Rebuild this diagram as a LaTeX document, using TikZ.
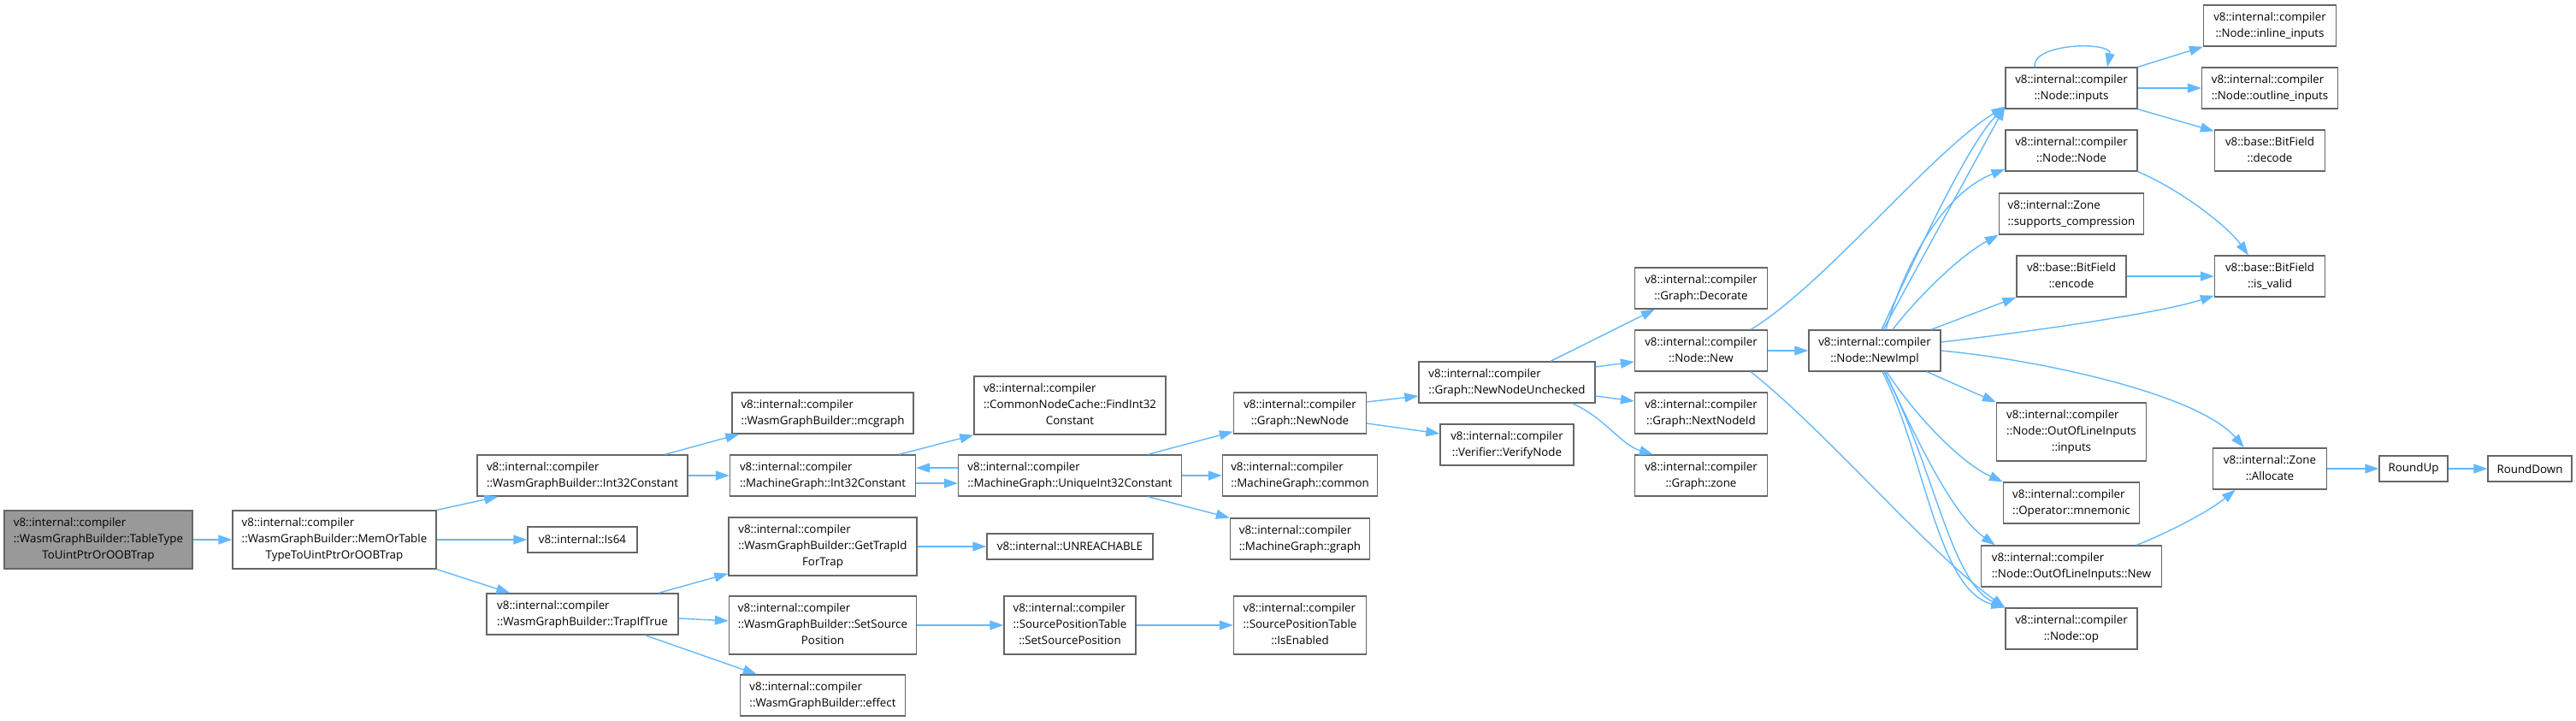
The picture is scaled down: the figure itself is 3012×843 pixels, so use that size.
\documentclass[tikz,border=0pt]{standalone}
\usepackage{fontspec}
\setmainfont{Open Sans}
\usetikzlibrary{arrows.meta,calc}
\definecolor{eb}{HTML}{63B8FF}
\definecolor{bd}{HTML}{666666}
\definecolor{rootfill}{HTML}{999999}
\newcommand\twoln[2]{\begin{tabular}{@{}l@{}}#1\\\multicolumn{1}{@{}c@{}}{#2}\end{tabular}}
\newcommand\threeln[3]{\begin{tabular}{@{}l@{}}#1\\#2\\\multicolumn{1}{@{}c@{}}{#3}\end{tabular}}
\newcommand\bx[6]{\node[box, minimum width=#4pt, minimum height=#5pt] (#1) at (#2,#3) {#6};}
\begin{document}
\begin{tikzpicture}[x=1pt,y=-1pt,
  box/.style={draw=bd, line width=1.3pt, fill=white, inner sep=0pt, font=\fontsize{13.35}{19}\selectfont},
  ed/.style={draw=eb, line width=1.4pt, -{Triangle[length=16pt,width=11pt]}}]
\useasboundingbox (0,0) rectangle (3012,843);
% column 0-1
\node[box, fill=rootfill, minimum width=220pt, minimum height=68pt] (root) at (115,631) {\threeln{v8::internal::compiler}{::WasmGraphBuilder::TableType}{ToUintPtrOrOOBTrap}};
\bx{mot}{391}{631}{238}{68}{\threeln{v8::internal::compiler}{::WasmGraphBuilder::MemOrTable}{TypeToUintPtrOrOOBTrap}}
% column 2
\bx{wic}{681}{556}{246}{48}{\twoln{v8::internal::compiler}{::WasmGraphBuilder::Int32Constant}}
\bx{is64}{681}{631}{128}{30}{v8::internal::Is64}
\bx{tit}{681}{718}{224}{48}{\twoln{v8::internal::compiler}{::WasmGraphBuilder::TrapIfTrue}}
% column 3
\bx{mcg}{962}{483}{212}{48}{\twoln{v8::internal::compiler}{::WasmGraphBuilder::mcgraph}}
\bx{mic}{962}{556}{217}{48}{\twoln{v8::internal::compiler}{::MachineGraph::Int32Constant}}
\bx{gtid}{962}{639}{220}{68}{\threeln{v8::internal::compiler}{::WasmGraphBuilder::GetTrapId}{ForTrap}}
\bx{wssp}{962}{731}{219}{68}{\threeln{v8::internal::compiler}{::WasmGraphBuilder::SetSource}{Position}}
\bx{eff}{962}{813}{193}{48}{\twoln{v8::internal::compiler}{::WasmGraphBuilder::effect}}
% column 4
\bx{find}{1251}{474}{224}{68}{\threeln{v8::internal::compiler}{::CommonNodeCache::FindInt32}{Constant}}
\bx{uniq}{1251}{556}{261}{48}{\twoln{v8::internal::compiler}{::MachineGraph::UniqueInt32Constant}}
\bx{unr}{1251}{639}{194}{30}{v8::internal::UNREACHABLE}
\bx{sssp}{1251}{731}{154}{68}{\threeln{v8::internal::compiler}{::SourcePositionTable}{::SetSourcePosition}}
% column 5
\bx{nn}{1520}{483}{155}{48}{\twoln{v8::internal::compiler}{::Graph::NewNode}}
\bx{comm}{1520}{556}{181}{48}{\twoln{v8::internal::compiler}{::MachineGraph::common}}
\bx{mgg}{1520}{630}{163}{48}{\twoln{v8::internal::compiler}{::MachineGraph::graph}}
\bx{sen}{1520}{731}{155}{68}{\threeln{v8::internal::compiler}{::SourcePositionTable}{::IsEnabled}}
% column 6
\bx{nnu}{1762}{447}{206}{48}{\twoln{v8::internal::compiler}{::Graph::NewNodeUnchecked}}
\bx{vn}{1762}{520}{156}{48}{\twoln{v8::internal::compiler}{::Verifier::VerifyNode}}
% column 7
\bx{dec}{1989}{337}{155}{48}{\twoln{v8::internal::compiler}{::Graph::Decorate}}
\bx{nnew}{1989}{410}{155}{48}{\twoln{v8::internal::compiler}{::Node::New}}
\bx{nid}{1989}{483}{155}{48}{\twoln{v8::internal::compiler}{::Graph::NextNodeId}}
\bx{gz}{1989}{556}{155}{48}{\twoln{v8::internal::compiler}{::Graph::zone}}
% column 8
\bx{nimpl}{2192}{410}{154}{48}{\twoln{v8::internal::compiler}{::Node::NewImpl}}
% column 9
\bx{ninp}{2422}{103}{154}{48}{\twoln{v8::internal::compiler}{::Node::inputs}}
\bx{nnode}{2422}{176}{154}{48}{\twoln{v8::internal::compiler}{::Node::Node}}
\bx{supp}{2422}{250}{169}{48}{\twoln{v8::internal::Zone}{::supports\_compression}}
\bx{enc}{2422}{323}{128}{48}{\twoln{v8::base::BitField}{::encode}}
\bx{oolin}{2422}{505}{175}{68}{\threeln{v8::internal::compiler}{::Node::OutOfLineInputs}{::inputs}}
\bx{mnem}{2422}{588}{159}{48}{\twoln{v8::internal::compiler}{::Operator::mnemonic}}
\bx{oolnew}{2422}{662}{211}{48}{\twoln{v8::internal::compiler}{::Node::OutOfLineInputs::New}}
\bx{nop}{2422}{735}{154}{48}{\twoln{v8::internal::compiler}{::Node::op}}
% column 10
\bx{inl}{2654}{30}{155}{48}{\twoln{v8::internal::compiler}{::Node::inline\_inputs}}
\bx{outl}{2654}{103}{159}{48}{\twoln{v8::internal::compiler}{::Node::outline\_inputs}}
\bx{dcd}{2654}{176}{129}{48}{\twoln{v8::base::BitField}{::decode}}
\bx{isv}{2654}{323}{129}{48}{\twoln{v8::base::BitField}{::is\_valid}}
\bx{alloc}{2654}{548}{133}{48}{\twoln{v8::internal::Zone}{::Allocate}}
% column 11-12
\bx{rup}{2822}{548}{80}{30}{RoundUp}
\bx{rdn}{2958}{548}{98}{30}{RoundDown}
% edges
\draw[ed] (root.east) -- (mot.west);
\draw[ed] (mot.north east) -- ([xshift=25pt]wic.south west);
\draw[ed] (mot.east) -- (is64.west);
\draw[ed] (mot.south east) -- ([xshift=28pt]tit.north west);
\draw[ed] ([xshift=-27pt]wic.north east) -- ([xshift=9pt]mcg.south west);
\draw[ed] (wic.east) -- (mic.west);
\draw[ed] ([xshift=-20pt]mic.north east) -- (find.south west);
\draw[ed] ([yshift=-9pt]mic.east) -- ([yshift=-9pt]uniq.west);
\draw[ed] ([yshift=9pt]uniq.west) -- ([yshift=9pt]mic.east);
\draw[ed] ([xshift=91pt]uniq.north) -- ([yshift=3pt]nn.south west);
\draw[ed] (uniq.east) -- (comm.west);
\draw[ed] ([xshift=91pt]uniq.south) -- (mgg.north west);
\draw[ed] ([xshift=89pt]tit.north) -- ([yshift=3pt]gtid.south west);
\draw[ed] ([yshift=-5pt]tit.east) -- ([yshift=5pt]wssp.west);
\draw[ed] ([xshift=73pt]tit.south) -- ([xshift=20pt]eff.north west);
\draw[ed] (gtid.east) -- (unr.west);
\draw[ed] (wssp.east) -- (sssp.west);
\draw[ed] (sssp.east) -- (sen.west);
\draw[ed] ([yshift=13pt]nn.east) -- ([yshift=-16pt]nnu.west);
\draw[ed] ([yshift=-12pt]nn.east) -- ([yshift=13pt]vn.west);
\draw[ed] ([xshift=51pt]nnu.north) -- ([xshift=24pt]dec.south west);
\draw[ed] ([yshift=18pt]nnu.east) -- ([yshift=-13pt]nnew.west);
\draw[ed] ([yshift=-16pt]nnu.east) -- ([yshift=14pt]nid.west);
\draw[ed] ([xshift=76pt]nnu.south) .. controls (1875,487) and (1895,520) .. ([xshift=22pt]gz.north west);
\draw[ed] (nnew.east) -- (nimpl.west);
\draw[ed] ([xshift=58pt]nnew.north) .. controls (2130,336) and (2260,176) .. ([yshift=3pt]ninp.south west);
\draw[ed] ([xshift=58pt]nnew.south) .. controls (2137,506) and (2253,644) .. (nop.north west);
\draw[ed] ([xshift=10pt]nimpl.north) -- ([yshift=3pt]ninp.south west);
\draw[ed] ([xshift=8pt]nimpl.north) .. controls (2240,300) and (2300,170) .. ([yshift=3pt]ninp.south west);
\draw[ed] ([xshift=13pt]nimpl.north) .. controls (2230,300) and (2275,225) .. ([yshift=3pt]nnode.south west);
\draw[ed] ([xshift=21pt]nimpl.north) .. controls (2240,350) and (2290,300) .. (supp.south west);
\draw[ed] ([xshift=66pt]nimpl.north) -- (enc.south west);
\draw[ed] ([yshift=10pt]nimpl.east) .. controls (2340,392) and (2520,368) .. ([yshift=2pt]isv.south west);
\draw[ed] (nimpl.east) .. controls (2380,420) and (2570,460) .. ([xshift=37pt]alloc.north west);
\draw[ed] ([xshift=61pt]nimpl.south) -- (oolin.north west);
\draw[ed] ([xshift=14pt]nimpl.south) .. controls (2235,480) and (2290,540) .. (mnem.north west);
\draw[ed] ([xshift=12pt]nimpl.south) .. controls (2235,500) and (2280,600) .. ([xshift=17pt]oolnew.north west);
\draw[ed] ([xshift=11pt]nimpl.south) .. controls (2260,540) and (2280,680) .. (nop.north west);
\draw[ed] ([xshift=9pt]nimpl.south) .. controls (2250,530) and (2265,690) .. (nop.north west);
\draw[ed] ([xshift=-43pt]ninp.north) .. controls (2375,50) and (2470,48) .. ([xshift=42pt]ninp.north);
\draw[ed] (ninp.north east) -- (inl.south west);
\draw[ed] (ninp.east) -- (outl.west);
\draw[ed] (ninp.south east) -- ([yshift=-2pt]dcd.north west);
\draw[ed] (nnode.south east) .. controls (2550,222) and (2605,265) .. ([xshift=40pt]isv.north west);
\draw[ed] (enc.east) -- (isv.west);
\draw[ed] ([xshift=76pt]oolnew.north) .. controls (2530,625) and (2580,600) .. ([xshift=27pt]alloc.south west);
\draw[ed] (alloc.east) -- (rup.west);
\draw[ed] (rup.east) -- (rdn.west);
\end{tikzpicture}
\end{document}
